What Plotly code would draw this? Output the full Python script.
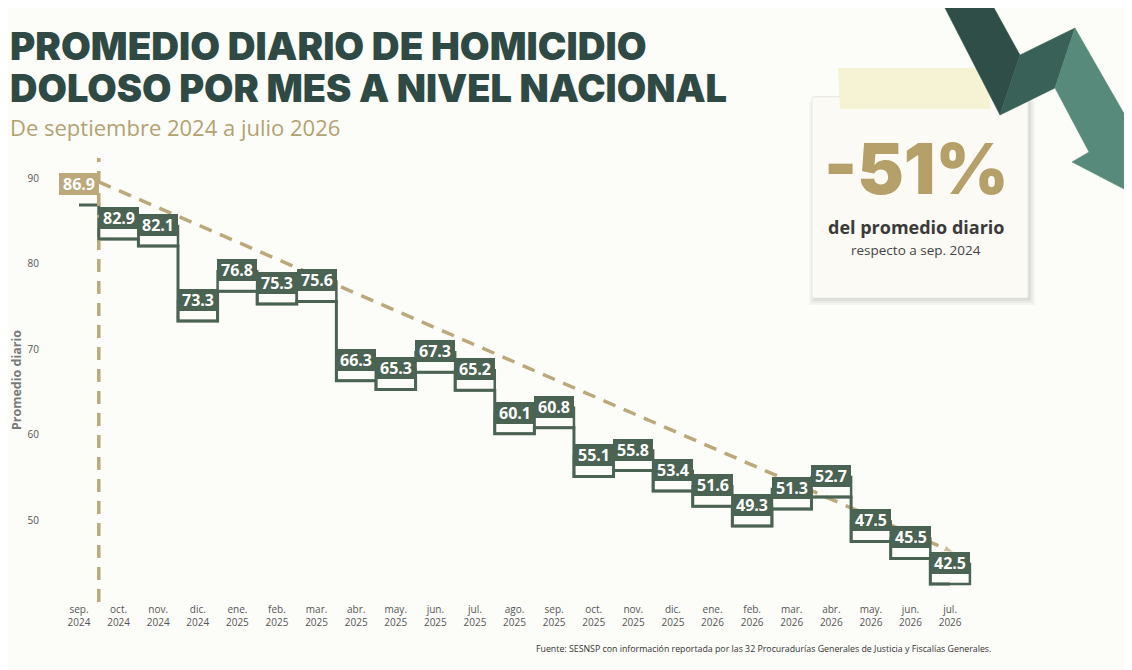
"""
Promedio diario de homicidio doloso por mes a nivel nacional
Step chart with boxed monthly labels and a dashed trend line.
"""

import plotly.graph_objects as go

# ── Data ──────────────────────────────────────────────────────────────────
months = ["sep.", "oct.", "nov.", "dic.", "ene.", "feb.", "mar.", "abr.",
          "may.", "jun.", "jul.", "ago.", "sep.", "oct.", "nov.", "dic.",
          "ene.", "feb.", "mar.", "abr.", "may.", "jun.", "jul."]
years = ["2024"] * 4 + ["2025"] * 12 + ["2026"] * 7
daily_avg = [86.9, 82.9, 82.1, 73.3, 76.8, 75.3, 75.6, 66.3, 65.3, 67.3,
             65.2, 60.1, 60.8, 55.1, 55.8, 53.4, 51.6, 49.3, 51.3, 52.7,
             47.5, 45.5, 42.5]
trend_x = [0.5, 22.1]
trend_y = [89.6, 46.2]
y_ticks = [50, 60, 70, 80, 90]

# ── Styling ───────────────────────────────────────────────────────────────
BG = "#fcfcf9"
GREEN = "#4b6352"
GOLD = "#bba97c"
GOLD_TXT = "#b3a272"
TITLE = "#2f4a44"
HEAVY = "Inter"

W, H = 1132, 670
OFF = 8  # page body margin
# plot area in page pixels: x 40..1000, y 158..602
L, T = 40 - OFF, 158 - OFF
R, B = W - (1000 - OFF), H - (602 - OFF)


def px(x, y):
    """Page pixels -> paper coordinates of the plot area."""
    fx, fy = x - OFF, y - OFF
    return (fx - L) / (W - L - R), (H - B - fy) / (H - T - B)


def poly(points):
    parts = []
    for i, (x, y) in enumerate(points):
        u, v = px(x, y)
        parts.append(("M" if i == 0 else "L") + f"{u:.4f},{v:.4f}")
    return " ".join(parts) + " Z"


def text_at(x, y, text, font, xanchor="center", yanchor="middle"):
    u, v = px(x, y)
    fig.add_annotation(x=u, y=v, xref="paper", yref="paper", showarrow=False,
                       xanchor=xanchor, yanchor=yanchor, text=text, font=font)


idx = list(range(len(daily_avg)))
tick_text = [f"{m}<br>{y}" for m, y in zip(months, years)]

fig = go.Figure()

# dashed trend line
fig.add_trace(go.Scatter(
    x=trend_x, y=trend_y, mode="lines+markers",
    line=dict(color=GOLD, width=3.5, dash="13px,9px"),
    marker=dict(symbol="arrow", angleref="previous", size=[0, 11], color=GOLD),
    hoverinfo="skip", showlegend=False,
))

# step line
fig.add_trace(go.Scatter(
    x=idx, y=daily_avg, mode="lines", line_shape="hvh",
    line=dict(color=GREEN, width=3),
    hoverinfo="skip", showlegend=False,
))

# start marker
fig.add_vline(x=0.5, line=dict(color=GOLD, width=3.5, dash="13px,9px"))

# value boxes
for i, v in zip(idx, daily_avg):
    first = i == 0
    if not first:
        fig.add_shape(
            type="rect", xref="x", yref="y",
            x0=i - 0.5, x1=i + 0.5,
            ysizemode="pixel", yanchor=v, y0=0, y1=20,
            line=dict(color=GREEN, width=2.5), fillcolor="rgba(0,0,0,0)",
        )
    fig.add_annotation(
        x=i, y=v, xref="x", yref="y", yanchor="bottom", yshift=10,
        text=f"<b>{v:.1f}</b>", showarrow=False,
        font=dict(family="Open Sans", size=16, color="white"),
        bgcolor=GOLD if first else GREEN,
        bordercolor=GOLD if first else GREEN, borderwidth=1, borderpad=1,
        width=36, height=18,
    )

# ── Sticky note + arrow decoration ───────────────────────────────────────
for off, a in [(7, 0.03), (5, 0.04), (3, 0.05), (1, 0.06)]:
    fig.add_shape(type="path", xref="paper", yref="paper", layer="below",
                  path=poly([(812 - off + 4, 95 + off), (1028 + off, 95 + off),
                             (1028 + off, 298 + off), (812 - off + 4, 298 + off)]),
                  fillcolor=f"rgba(0,0,0,{a})", line_width=0)
fig.add_shape(type="path", xref="paper", yref="paper",
              path=poly([(812, 97), (1028, 97), (1028, 298), (812, 298)]),
              fillcolor="#fbfaf4", line=dict(color="#ecebe4", width=1))
fig.add_shape(type="path", xref="paper", yref="paper",
              path=poly([(838, 68), (988, 68), (990, 109), (840, 109)]),
              fillcolor="#f6f1d2", line_width=0, opacity=0.95)

# zig-zag arrow, one polygon per leg to fake the gradient
arrow_legs = [
    ([(945, 8), (994, 8), (1020, 55), (1000, 115)], "#2f4e48"),
    ([(1000, 115), (1020, 55), (1075, 28), (1055, 88)], "#3a6157"),
    ([(1055, 88), (1075, 28), (1145, 150), (1145, 200), (1072, 162),
      (1089, 152)], "#578a7b"),
]
for pts, col in arrow_legs:
    fig.add_shape(type="path", xref="paper", yref="paper", path=poly(pts),
                  fillcolor=col, line=dict(color=col, width=0.5))

text_at(916, 168, "-51%",
        dict(family=HEAVY, size=70, color="#b5a069", weight=900))
text_at(916, 227, "<b>del promedio diario</b>",
        dict(family="Open Sans", size=18, color="#3a3a3a"))
text_at(916, 250, "respecto a sep. 2024",
        dict(family="Open Sans", size=13.5, color="#444"))

# ── Titles and source ─────────────────────────────────────────────────────
text_at(8, 46, "PROMEDIO DIARIO DE HOMICIDIO",
        dict(family=HEAVY, size=38.5, color=TITLE, weight=900), xanchor="left")
text_at(8, 88, "DOLOSO POR MES A NIVEL NACIONAL",
        dict(family=HEAVY, size=38, color=TITLE, weight=900), xanchor="left")
text_at(8, 127, "De septiembre 2024 a julio 2026",
        dict(family="Open Sans", size=22, color=GOLD_TXT), xanchor="left")
text_at(993, 649,
        "Fuente: SESNSP con información reportada por las 32 "
        "Procuradurías Generales de Justicia y Fiscalías Generales.",
        dict(family="Open Sans", size=8.8, color="#333"), xanchor="right")

# ── Layout ────────────────────────────────────────────────────────────────
fig.update_layout(
    width=W, height=H,
    margin=dict(l=L, r=R, t=T, b=B, autoexpand=False),
    paper_bgcolor=BG, plot_bgcolor=BG,
    font=dict(family="Open Sans", color="#555"),
    showlegend=False,
)
fig.update_xaxes(
    range=[-0.985, 23.26], tickmode="array", tickvals=idx, ticktext=tick_text,
    showgrid=False, zeroline=False, showline=False, ticks="", automargin=False,
    tickfont=dict(size=10, color="#555"),
)
fig.update_yaxes(
    range=[40.4, 92.4], tickvals=y_ticks,
    showgrid=False, zeroline=False, showline=False, ticks="", automargin=False,
    tickfont=dict(size=10, color="#555"),
    title=dict(text="<b>Promedio diario</b>", standoff=4,
               font=dict(size=12.5, color="#7a7a7a")),
)

fig.write_html("out.html")
